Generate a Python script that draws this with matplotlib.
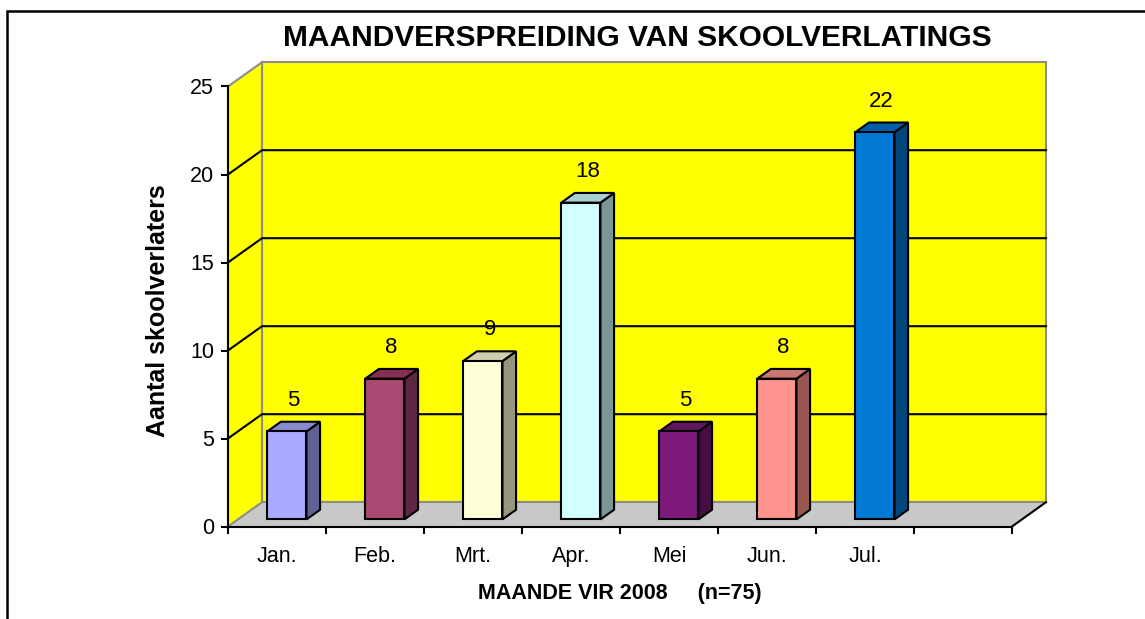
import matplotlib
matplotlib.use("Agg")
import matplotlib.pyplot as plt
from matplotlib.patches import Polygon, Rectangle

plt.rcParams['font.family'] = ['Liberation Sans', 'DejaVu Sans']

# data
months = ["Jan.", "Feb.", "Mrt.", "Apr.", "Mei", "Jun.", "Jul."]
counts = [5, 8, 9, 18, 5, 8, 22]
n_slots = 8  # one empty category at the end
y_ticks = [0, 5, 10, 15, 20, 25]

# colours: front, side, top
front_cols = ["#AAAAFF", "#A84A72", "#FFFFD8", "#D2FFFF", "#7E1A7B", "#FF948F", "#007AD5"]
side_cols = ["#606093", "#5E2640", "#96967A", "#7A9696", "#440E43", "#985650", "#00467A"]
top_cols = ["#8A8ACF", "#852F55", "#CFCFAE", "#A9CFCF", "#621561", "#CC7672", "#005FA8"]

W, H = 1145, 619
fig = plt.figure(figsize=(W / 100, H / 100), dpi=100)
ax = fig.add_axes([228 / W, (H - 526.5) / H, 784 / W, 440 / H])
ax.set_xlim(0, n_slots)
ax.set_ylim(0, 25)
ax.patch.set_visible(False)

# depth of the 3d box in data units
DX = 34 / 98
DY = 24.3 / 17.6
f0, f1 = 0.29, 0.69  # bar depth range

yellow = "#FFFF00"
grey = "#8C8C8C"

# walls and floor
ax.add_patch(Polygon([(DX, DY), (n_slots + DX, DY), (n_slots + DX, 25 + DY), (DX, 25 + DY)],
                     closed=True, fc=yellow, ec=grey, lw=1.5, clip_on=False, zorder=1))
ax.add_patch(Polygon([(0, 0), (DX, DY), (DX, 25 + DY), (0, 25)],
                     closed=True, fc=yellow, ec="none", clip_on=False, zorder=1))
ax.add_patch(Polygon([(0, 0), (n_slots, 0), (n_slots + DX, DY), (DX, DY)],
                     closed=True, fc="#C8C8C8", ec="none", clip_on=False, zorder=1))
ax.plot([DX, DX], [DY, 25 + DY], color=grey, lw=1.5, clip_on=False, zorder=2)
ax.plot([DX, n_slots + DX], [DY, DY], color=grey, lw=1.5, clip_on=False, zorder=2)
ax.plot([0, DX], [0, DY], color=grey, lw=1.5, clip_on=False, zorder=2)
ax.plot([0, DX], [25, 25 + DY], color=grey, lw=1.5, clip_on=False, zorder=2)
ax.plot([n_slots, n_slots + DX], [0, DY], color="black", lw=1.5, clip_on=False, zorder=2)

# gridlines
for v in y_ticks[1:-1]:
    ax.plot([0, DX, n_slots + DX], [v, v + DY, v + DY], color="black", lw=1.5,
            clip_on=False, zorder=2)

# bars
for i, v in enumerate(counts):
    left = i + 0.3 + f0 * DX
    right = left + 0.4
    bottom = f0 * DY
    top = v + f0 * DY
    ddx = (f1 - f0) * DX
    ddy = (f1 - f0) * DY
    kw = dict(closed=True, ec="black", lw=1.5, clip_on=False, zorder=3, joinstyle="miter")
    ax.add_patch(Polygon([(right, bottom), (right + ddx, bottom + ddy), (right + ddx, top + ddy),
                          (right, top)], fc=side_cols[i], **kw))
    ax.add_patch(Polygon([(left, top), (right, top), (right + ddx, top + ddy), (left + ddx, top + ddy)],
                         fc=top_cols[i], **kw))
    ax.add_patch(Polygon([(left, bottom), (right, bottom), (right, top), (left, top)],
                         fc=front_cols[i], **kw))
    ax.annotate(str(v), ((left + right) / 2 + ddx / 2, top + ddy / 2), xytext=(0, 19),
                textcoords="offset points", ha="center", va="center", fontsize=16, zorder=4,
                annotation_clip=False)

# axes
for s in ["top", "right"]:
    ax.spines[s].set_visible(False)
for s in ["left", "bottom"]:
    ax.spines[s].set_linewidth(1.5)
    ax.spines[s].set_zorder(5)
ax.set_yticks(y_ticks)
ax.tick_params(axis="y", length=5, width=1.5, labelsize=15.5, pad=5)
ax.set_xticks(range(n_slots + 1))
ax.set_xticklabels([])
ax.set_xticks([i + 0.5 for i in range(len(months))], minor=True)
ax.set_xticklabels(months, minor=True)
ax.tick_params(axis="x", which="major", length=5, width=1.5)
ax.tick_params(axis="x", which="minor", length=0, labelsize=15.5, pad=14)

# texts
fig.text(637 / W, 1 - 38.5 / H, "MAANDVERSPREIDING VAN SKOOLVERLATINGS", ha="center", va="center",
         fontsize=21.5, fontweight="bold")
fig.text(620 / W, 1 - 594 / H, "MAANDE VIR 2008     (n=75)", ha="center", va="center",
         fontsize=15.5, fontweight="bold")
fig.text(158 / W, 1 - 311 / H, "Aantal skoolverlaters", ha="center", va="center", rotation=90,
         fontsize=18, fontweight="bold")

# outer frame
fig.patches.append(Rectangle((7 / W, -0.1), 1.2, 1.1 - 11 / H, transform=fig.transFigure,
                             fill=False, ec="black", lw=1.8))

fig.savefig("out.png", dpi=100)
